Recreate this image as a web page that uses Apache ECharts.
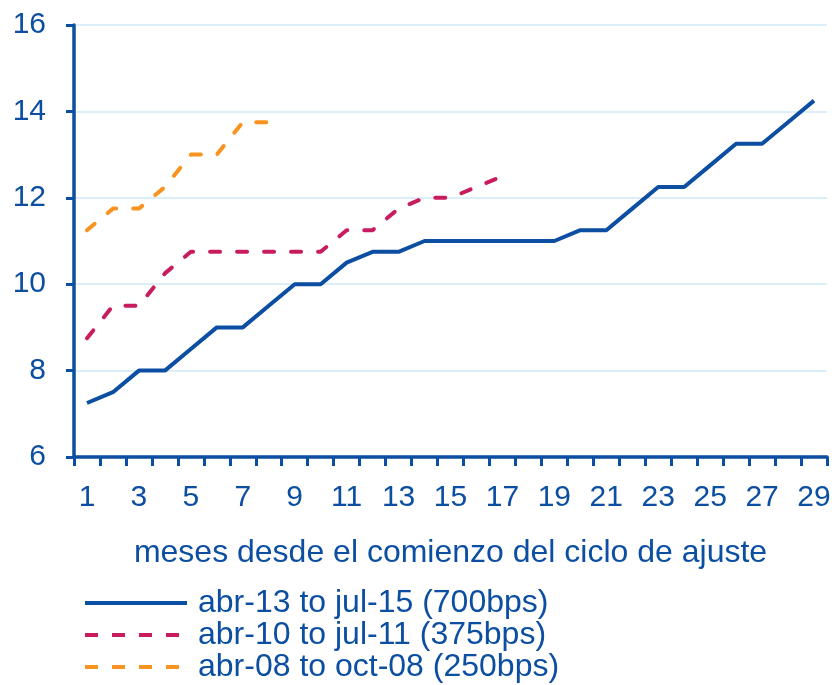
<!DOCTYPE html>
<html>
<head>
<meta charset="utf-8">
<script src="https://cdn.jsdelivr.net/npm/echarts@6/dist/echarts.min.js"></script>
<style>
html,body{margin:0;padding:0;background:#fff;}
#chart{width:834px;height:685px;}
</style>
</head>
<body>
<div id="chart"></div>
<script>
const months = ['1','2','3','4','5','6','7','8','9','10','11','12','13','14','15','16','17','18','19','20','21','22','23','24','25','26','27','28','29'];
const seriesNames = ['abr-13 to jul-15 (700bps)', 'abr-10 to jul-11 (375bps)', 'abr-08 to oct-08 (250bps)'];
const cycle2013 = [7.25, 7.5, 8, 8, 8.5, 9, 9, 9.5, 10, 10, 10.5, 10.75, 10.75, 11, 11, 11, 11, 11, 11, 11.25, 11.25, 11.75, 12.25, 12.25, 12.75, 13.25, 13.25, 13.75, 14.25];
const cycle2010 = [8.75, 9.5, 9.5, 10.25, 10.75, 10.75, 10.75, 10.75, 10.75, 10.75, 11.25, 11.25, 11.75, 12, 12, 12.25, 12.5];
const cycle2008 = [11.25, 11.75, 11.75, 12.25, 13, 13, 13.75, 13.75];
const yTicks = [6, 8, 10, 12, 14, 16];

const BLUE = '#0B4EA2', RED = '#C81C5E', ORANGE = '#F7931E';
const FONT = 'Liberation Sans';
const DASH = [10, 17];

const chart = echarts.init(document.getElementById('chart'), null, {renderer: 'canvas'});
chart.setOption({
  animation: false,
  textStyle: {fontFamily: FONT, color: BLUE},
  grid: {left: 74, right: 7, top: 25, bottom: 228, containLabel: false},
  xAxis: {
    type: 'category',
    data: months,
    boundaryGap: true,
    axisLine: {lineStyle: {color: BLUE, width: 3.5}},
    axisTick: {show: true, inside: false, length: 9, interval: 0, lineStyle: {color: BLUE, width: 3}},
    axisLabel: {interval: 1, color: BLUE, fontSize: 30, fontFamily: FONT, margin: 26},
    splitLine: {show: false},
    name: 'meses desde el comienzo del ciclo de ajuste',
    nameLocation: 'middle',
    nameGap: 80,
    nameTextStyle: {color: BLUE, fontSize: 32, fontFamily: FONT}
  },
  yAxis: {
    type: 'value',
    min: yTicks[0],
    max: yTicks[yTicks.length - 1],
    interval: 2,
    axisLine: {show: true, lineStyle: {color: BLUE, width: 3.5}},
    axisTick: {show: true, inside: false, length: 8, lineStyle: {color: BLUE, width: 3}},
    axisLabel: {color: BLUE, fontSize: 30, fontFamily: FONT, margin: 28},
    splitLine: {show: true, lineStyle: {color: '#CFE9F7', width: 1.5}}
  },
  legend: {
    orient: 'vertical',
    left: 78,
    top: 582,
    height: 110,
    itemWidth: 102,
    itemHeight: 14,
    itemGap: 0,
    itemStyle: {opacity: 0},
    textStyle: {color: BLUE, fontSize: 32, fontFamily: FONT, lineHeight: 32, padding: [0, 0, 0, 6]},
    data: [
      {name: seriesNames[0], lineStyle: {width: 4, color: BLUE}},
      {name: seriesNames[1], lineStyle: {width: 4, color: RED, type: [13, 14], cap: 'butt'}},
      {name: seriesNames[2], lineStyle: {width: 4, color: ORANGE, type: [13, 14], cap: 'butt'}}
    ]
  },
  series: [
    {name: seriesNames[0], type: 'line', data: cycle2013, symbol: 'none', lineStyle: {color: BLUE, width: 4}, itemStyle: {color: BLUE}, z: 3},
    {name: seriesNames[1], type: 'line', data: cycle2010, symbol: 'none', lineStyle: {color: RED, width: 4, type: DASH, cap: 'round'}, itemStyle: {color: RED}},
    {name: seriesNames[2], type: 'line', data: cycle2008, symbol: 'none', lineStyle: {color: ORANGE, width: 4, type: DASH, cap: 'round'}, itemStyle: {color: ORANGE}}
  ]
});
</script>
</body>
</html>
